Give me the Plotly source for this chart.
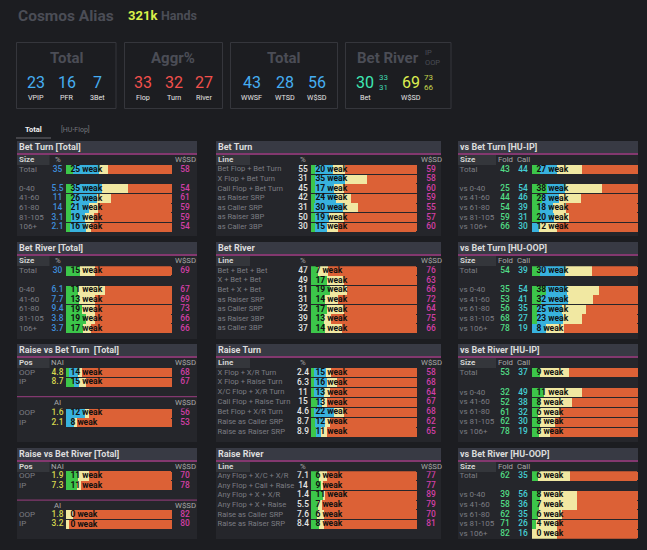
import plotly.graph_objects as go

W, H = 647, 550

# Bet Turn [Total]
bt_total_rows = ["Total", " ", "0-40", "41-60", "61-80", "81-105", "106+"]
bt_total_pct = ["35", "", "5.5", "11", "14", "3.1", "2.1"]
bt_total_weak = [25, None, 35, 26, 21, 19, 16]
bt_total_green = [7, None, 7, 7, 5, 5, 4]
bt_total_blue = [24.5, None, 26.5, 22, 17, 12.5, 15]
bt_total_yellow = [8, None, 25, 13.5, 8.5, 8.5, 5]
bt_total_orange = [60.5, None, 41.5, 57.5, 69.5, 74, 76]
bt_total_wsd = ["58", "", "54", "61", "59", "59", "54"]

# Bet River [Total]
br_total_rows = ["Total", " ", "0-40", "41-60", "61-80", "81-105", "106+"]
br_total_pct = ["30", "", "6.1", "7.7", "9.4", "3.8", "3.7"]
br_total_weak = [15, None, 11, 13, 19, 19, 17]
br_total_green = [13, None, 11.5, 12.5, 15, 19, 16]
br_total_blue = [0, None, 0, 0, 0, 0, 0]
br_total_yellow = [14, None, 25, 14.5, 12.5, 8.5, 8]
br_total_orange = [73, None, 63.5, 73, 72.5, 72.5, 76]
br_total_wsd = ["69", "", "67", "69", "73", "66", "66"]

# Raise vs Bet Turn [Total]
rvt_rows = ["OOP", "IP"]
rvt_nai_pct = ["4.8", "8.7"]
rvt_nai_weak = [14, 15]
rvt_nai_green = [2.5, 7.5]
rvt_nai_blue = [8.5, 5]
rvt_nai_yellow = [4, 6.5]
rvt_nai_orange = [85, 81]
rvt_nai_wsd = ["68", "67"]
rvt_ai_pct = ["1.6", "2.1"]
rvt_ai_weak = [12, 8]
rvt_ai_green = [0, 0]
rvt_ai_blue = [17.5, 8]
rvt_ai_yellow = [4.5, 2]
rvt_ai_orange = [78, 90]
rvt_ai_wsd = ["56", "53"]

# Raise vs Bet River [Total]
rvr_rows = ["OOP", "IP"]
rvr_nai_pct = ["1.9", "7.3"]
rvr_nai_weak = [11, 11]
rvr_nai_green = [11.5, 10.5]
rvr_nai_blue = [0, 0]
rvr_nai_yellow = [10, 4]
rvr_nai_orange = [78.5, 85.5]
rvr_nai_wsd = ["70", "78"]
rvr_ai_pct = ["1.8", "3.2"]
rvr_ai_weak = [0, 0]
rvr_ai_green = [0, 0]
rvr_ai_blue = [0, 0]
rvr_ai_yellow = [7, 3]
rvr_ai_orange = [93, 97]
rvr_ai_wsd = ["82", "80"]

# Bet Turn
bt_rows = ["Bet Flop + Bet Turn", "X Flop + Bet Turn", "Call Flop + Bet Turn", "as Raiser SRP",
           "as Caller SRP", "as Raiser 3BP", "as Caller 3BP"]
bt_pct = ["55", "31", "45", "42", "31", "50", "30"]
bt_weak = [20, 35, 17, 24, 30, 19, 15]
bt_green = [4, 4, 4, 4, 3, 4, 4]
bt_blue = [17, 28.5, 17.5, 20, 27.5, 13, 11]
bt_yellow = [11, 20, 10, 14, 14, 14.5, 10]
bt_orange = [68, 47.5, 68.5, 62, 55.5, 68.5, 75]
bt_wsd = ["59", "58", "60", "59", "55", "57", "60"]

# Bet River
br_rows = ["Bet + Bet + Bet", "X + Bet + Bet", "Bet + X + Bet", "as Raiser SRP",
           "as Caller SRP", "as Raiser 3BP", "as Caller 3BP"]
br_pct = ["47", "49", "31", "31", "32", "39", "37"]
br_weak = [7, 17, 19, 14, 17, 13, 14]
br_green = [7, 15.5, 18, 13.5, 15.5, 12.5, 13]
br_blue = [0, 0, 0, 0, 0, 0, 0]
br_yellow = [9.5, 15.5, 15.5, 12, 15.5, 6, 16]
br_orange = [83.5, 69, 66.5, 74.5, 69, 81.5, 71]
br_wsd = ["76", "63", "66", "72", "64", "75", "66"]

# Raise Turn
rt_rows = ["X Flop + X/R Turn", "X Flop + Raise Turn", "X/C Flop + X/R Turn", "Call Flop + Raise Turn",
           "Bet Flop + X/R Turn", "Raise as Caller SRP", "Raise as Raiser SRP"]
rt_pct = ["2.4", "6.3", "11", "15", "4.6", "8.7", "8.9"]
rt_weak = [15, 16, 13, 13, 22, 12, 11]
rt_green = [3, 3, 3, 6, 3, 4, 4.5]
rt_blue = [11, 12, 9, 4.5, 18.5, 9, 5]
rt_yellow = [4.5, 9.5, 6, 5, 10, 4.5, 6]
rt_orange = [81.5, 75.5, 82, 84.5, 68.5, 82.5, 84.5]
rt_wsd = ["58", "68", "64", "67", "68", "62", "65"]

# Raise River
rr_rows = ["Any Flop + X/C + X/R", "Any Flop + Call + Raise", "Any Flop + X + X/R", "Any Flop + X + Raise",
           "Raise as Caller SRP", "Raise as Raiser SRP"]
rr_pct = ["7.1", "14", "1.4", "5.5", "7.6", "8.4"]
rr_weak = [6, 9, 11, 7, 6, 8]
rr_green = [8, 9.5, 11, 7, 6, 8]
rr_blue = [0, 0, 0, 0, 0, 0]
rr_yellow = [7.5, 1.5, 2, 3, 6.5, 4]
rr_orange = [84.5, 89, 87, 90, 87.5, 88]
rr_wsd = ["77", "77", "89", "79", "70", "81"]

# vs Bet Turn [HU-IP]
vt_ip_rows = ["Total", " ", "vs 0-40", "vs 41-60", "vs 61-80", "vs 81-105", "vs 106+"]
vt_ip_fold = ["43", "", "25", "44", "54", "59", "66"]
vt_ip_call = ["44", "", "54", "46", "39", "31", "30"]
vt_ip_weak = [27, None, 38, 28, 18, 20, 12]
vt_ip_green = [8, None, 14, 9, 8, 8, 0]
vt_ip_blue = [16, None, 17, 16, 12, 12.5, 7]
vt_ip_yellow = [23, None, 35, 21.5, 12, 14.5, 16.5]
vt_ip_orange = [53, None, 34, 53.5, 68, 65, 76.5]

# vs Bet Turn [HU-OOP]
vt_oop_rows = ["Total", " ", "vs 0-40", "vs 41-60", "vs 61-80", "vs 81-105", "vs 106+"]
vt_oop_fold = ["54", "", "35", "53", "56", "68", "78"]
vt_oop_call = ["39", "", "54", "41", "35", "27", "19"]
vt_oop_weak = [30, None, 38, 32, 25, 23, 8]
vt_oop_green = [8, None, 13, 8.5, 4.5, 4.5, 0]
vt_oop_blue = [23.5, None, 20, 25, 23.5, 24.5, 13.5]
vt_oop_yellow = [25, None, 30, 24.5, 23, 18.5, 17]
vt_oop_orange = [43.5, None, 37, 42, 49, 52.5, 69.5]

# vs Bet River [HU-IP]
vr_ip_rows = ["Total", " ", "vs 0-40", "vs 41-60", "vs 61-80", "vs 81-105", "vs 106+"]
vr_ip_fold = ["53", "", "32", "52", "61", "62", "78"]
vr_ip_call = ["37", "", "49", "38", "32", "30", "19"]
vr_ip_weak = [9, None, 11, 8, 6, 8, 8]
vr_ip_green = [8, None, 11, 8, 5.5, 8, 7]
vr_ip_blue = [0, None, 0, 0, 0, 0, 0]
vr_ip_yellow = [27, None, 36.5, 30, 20.5, 13.5, 10]
vr_ip_orange = [65, None, 52.5, 62, 74, 78.5, 83]

# vs Bet River [HU-OOP]
vr_oop_rows = ["Total", " ", "vs 0-40", "vs 41-60", "vs 61-80", "vs 81-105", "vs 106+"]
vr_oop_fold = ["62", "", "39", "58", "62", "71", "82"]
vr_oop_call = ["35", "", "56", "36", "35", "26", "16"]
vr_oop_weak = [6, None, 8, 7, 6, 4, 0]
vr_oop_green = [5.5, None, 8, 6.5, 5.5, 4, 0]
vr_oop_blue = [0, None, 0, 0, 0, 0, 0]
vr_oop_yellow = [30, None, 34, 36, 23, 20, 23.5]
vr_oop_orange = [64.5, None, 58, 57.5, 71.5, 76, 76.5]

# summary cards
card_total_values = ["23", "16", "7"]
card_total_labels = ["VPIP", "PFR", "3Bet"]
card_aggr_values = ["33", "32", "27"]
card_aggr_labels = ["Flop", "Turn", "River"]
card_show_values = ["43", "28", "56"]
card_show_labels = ["WWSF", "WTSD", "W$SD"]

FONT = "Roboto"
BG = "#1c1d21"
PANEL = "#25262b"
HEAD = "#383a44"
MAGENTA = "#83386f"
GRAY = "#7c7d83"
TITLE_GRAY = "#4b4d56"
BLUE = "#3f8fdc"
YELLOW = "#d6d84e"
PINK = "#d23fa6"
FOLD = "#52dd86"
CALL = "#45cfd6"

# column geometry in pixels
COLS = {
    "left": dict(l=17, r=197, bar_l=66, bar_r=172, label=19, head_r=49.5, label_size=8),
    "mid": dict(l=216, r=441, bar_l=311, bar_r=417, label=217.5, head_r=250, label_size=7.6),
    "right": dict(l=458, r=638, bar_l=532, bar_r=638, label=459.5, head_r=496, label_size=8),
}

fig = go.Figure()
shapes = []
notes = []
axis_n = 0


def px(x):
    return x / W


def py(y):
    return 1 - y / H


def rect(x0, y0, x1, y1, fill, line=None):
    shapes.append(dict(type="rect", xref="paper", yref="paper", x0=px(x0), x1=px(x1), y0=py(y0), y1=py(y1),
                       fillcolor=fill, line=dict(color=line or fill, width=1 if line else 0), layer="below"))


def note(x, y, text, size=8.5, color=GRAY, anchor="left", bold=False):
    # annotations carry about 2px of padding on the anchored side
    if anchor == "left":
        x -= 2
    notes.append(dict(x=px(x), y=py(y), xref="paper", yref="paper", text=text, showarrow=False,
                      xanchor=anchor, yanchor="middle",
                      font=dict(family=FONT, size=size, color=color, weight=700 if bold else 400)))


def add_rows(col, first_y, pitch, rows, weak, green, blue, yellow, orange, columns):
    # one stacked bar block on its own pair of axes, columns are (center px, texts, color)
    global axis_n
    axis_n += 1
    c = COLS[col]
    xa, ya = f"x{axis_n}", f"y{axis_n}"
    unit = (c["bar_r"] - c["bar_l"]) / 100
    n = len(rows)
    top = first_y - pitch / 2
    x0 = (c["l"] - c["bar_l"]) / unit
    x1 = (c["r"] - c["bar_l"]) / unit
    fig.update_layout({
        f"xaxis{axis_n}": dict(domain=[px(c["l"]), px(c["r"])], range=[x0, x1], visible=False, fixedrange=True),
        f"yaxis{axis_n}": dict(domain=[py(top + n * pitch), py(top)], type="category", categoryorder="array",
                               categoryarray=rows, range=[n - 0.5, -0.5], visible=False, fixedrange=True),
    })
    for vals, color in [(green, "#3cc64a"), (blue, "#38b2de"), (yellow, "#f1e8a2"), (orange, "#dc6136")]:
        fig.add_trace(go.Bar(y=rows, x=vals, orientation="h", marker=dict(color=color, line_width=0),
                             xaxis=xa, yaxis=ya, hoverinfo="skip", showlegend=False))
    texts = [(c["label"] - c["bar_l"]) / unit] * n
    fig.add_trace(go.Scatter(x=texts, y=rows, text=[r.strip() for r in rows], mode="text",
                             textposition="middle right", xaxis=xa, yaxis=ya, hoverinfo="skip", showlegend=False,
                             textfont=dict(family=FONT, size=c["label_size"], color=GRAY)))
    for center, vals, color in columns:
        fig.add_trace(go.Scatter(x=[(center - c["bar_l"]) / unit] * n, y=rows, text=vals, mode="text",
                                 textposition="middle center", xaxis=xa, yaxis=ya, hoverinfo="skip",
                                 showlegend=False,
                                 textfont=dict(family=FONT, size=8.4, color=color, weight=500)))
    labels = ["" if w is None else f"{w} weak" for w in weak]
    fig.add_trace(go.Scatter(x=[4.4 / unit] * n, y=rows, text=labels, mode="text", textposition="middle right",
                             xaxis=xa, yaxis=ya, hoverinfo="skip", showlegend=False,
                             textfont=dict(family=FONT, size=8.5, color="#101010", weight=700)))


def panel(col, head_y, bottom, title, first, headers):
    c = COLS[col]
    rect(c["l"], head_y, c["r"], bottom, PANEL)
    rect(c["l"], head_y, c["r"], head_y + 12, HEAD)
    rect(c["l"], head_y + 12, c["r"], head_y + 14, MAGENTA)
    rect(c["l"], head_y + 14, c["head_r"], head_y + 24, "#34363b")
    note(c["label"], head_y + 6, title, size=9, color="#dcdcdc", bold=True)
    note(c["label"], head_y + 18.5, first, size=8, color="#d2d2d2", bold=True)
    for x, text in headers:
        note(x, head_y + 18.5, text, size=7.8, color="#a8a8a8", anchor="center")


# columns of numbers in each group
L_PCT, L_WSD = 57.5, 185
M_PCT, M_WSD = 303, 431
R_FOLD, R_CALL = 505, 523
left_heads = [(L_PCT, "%"), (L_WSD, "W$SD")]
mid_heads = [(M_PCT, "%"), (M_WSD, "W$SD")]
right_heads = [(R_FOLD, "Fold"), (R_CALL, "Call")]

# page furniture first
panel("left", 141, 236, "Bet Turn [Total]", "Size", left_heads)
add_rows("left", 169.6, 9.6, bt_total_rows, bt_total_weak, bt_total_green, bt_total_blue, bt_total_yellow,
         bt_total_orange, [(L_PCT, bt_total_pct, BLUE), (L_WSD, bt_total_wsd, PINK)])
panel("left", 242, 339, "Bet River [Total]", "Size", left_heads)
add_rows("left", 271, 9.6, br_total_rows, br_total_weak, br_total_green, br_total_blue, br_total_yellow,
         br_total_orange, [(L_PCT, br_total_pct, BLUE), (L_WSD, br_total_wsd, PINK)])
panel("left", 344, 442, "Raise vs Bet Turn  [Total]", "Pos", [(L_PCT, "NAI"), (L_WSD, "W$SD")])
add_rows("left", 372.7, 9.6, rvt_rows, rvt_nai_weak, rvt_nai_green, rvt_nai_blue, rvt_nai_yellow, rvt_nai_orange,
         [(L_PCT, rvt_nai_pct, YELLOW), (L_WSD, rvt_nai_wsd, PINK)])
rect(17, 396, 197, 397.2, MAGENTA)
note(L_PCT, 402.7, "AI", size=7.8, color="#a8a8a8", anchor="center")
note(L_WSD, 402.7, "W$SD", size=7.8, color="#a8a8a8", anchor="center")
add_rows("left", 413.3, 9.6, rvt_rows, rvt_ai_weak, rvt_ai_green, rvt_ai_blue, rvt_ai_yellow, rvt_ai_orange,
         [(L_PCT, rvt_ai_pct, YELLOW), (L_WSD, rvt_ai_wsd, PINK)])
panel("left", 448, 539, "Raise vs Bet River [Total]", "Pos", [(L_PCT, "NAI"), (L_WSD, "W$SD")])
add_rows("left", 476, 9.8, rvr_rows, rvr_nai_weak, rvr_nai_green, rvr_nai_blue, rvr_nai_yellow, rvr_nai_orange,
         [(L_PCT, rvr_nai_pct, YELLOW), (L_WSD, rvr_nai_wsd, PINK)])
rect(17, 499.5, 197, 500.7, MAGENTA)
note(L_PCT, 505, "AI", size=7.8, color="#a8a8a8", anchor="center")
note(L_WSD, 505, "W$SD", size=7.8, color="#a8a8a8", anchor="center")
add_rows("left", 514.7, 9.7, rvr_rows, rvr_ai_weak, rvr_ai_green, rvr_ai_blue, rvr_ai_yellow, rvr_ai_orange,
         [(L_PCT, rvr_ai_pct, YELLOW), (L_WSD, rvr_ai_wsd, PINK)])

panel("mid", 141, 236, "Bet Turn", "Line", mid_heads)
add_rows("mid", 169.5, 9.6, bt_rows, bt_weak, bt_green, bt_blue, bt_yellow, bt_orange,
         [(M_PCT, bt_pct, "#e6e6e6"), (M_WSD, bt_wsd, PINK)])
panel("mid", 242, 339, "Bet River", "Line", mid_heads)
add_rows("mid", 271, 9.6, br_rows, br_weak, br_green, br_blue, br_yellow, br_orange,
         [(M_PCT, br_pct, "#e6e6e6"), (M_WSD, br_wsd, PINK)])
panel("mid", 344, 442, "Raise Turn", "Line", mid_heads)
add_rows("mid", 372.7, 9.9, rt_rows, rt_weak, rt_green, rt_blue, rt_yellow, rt_orange,
         [(M_PCT, rt_pct, "#e6e6e6"), (M_WSD, rt_wsd, PINK)])
panel("mid", 448, 539, "Raise River", "Line", mid_heads)
add_rows("mid", 476, 9.66, rr_rows, rr_weak, rr_green, rr_blue, rr_yellow, rr_orange,
         [(M_PCT, rr_pct, "#e6e6e6"), (M_WSD, rr_wsd, PINK)])

panel("right", 141, 236, "vs Bet Turn [HU-IP]", "Size", right_heads)
add_rows("right", 169.6, 9.6, vt_ip_rows, vt_ip_weak, vt_ip_green, vt_ip_blue, vt_ip_yellow, vt_ip_orange,
         [(R_FOLD, vt_ip_fold, FOLD), (R_CALL, vt_ip_call, CALL)])
panel("right", 242, 339, "vs Bet Turn [HU-OOP]", "Size", right_heads)
add_rows("right", 271, 9.6, vt_oop_rows, vt_oop_weak, vt_oop_green, vt_oop_blue, vt_oop_yellow, vt_oop_orange,
         [(R_FOLD, vt_oop_fold, FOLD), (R_CALL, vt_oop_call, CALL)])
panel("right", 344, 442, "vs Bet River [HU-IP]", "Size", right_heads)
add_rows("right", 372.7, 9.93, vr_ip_rows, vr_ip_weak, vr_ip_green, vr_ip_blue, vr_ip_yellow, vr_ip_orange,
         [(R_FOLD, vr_ip_fold, FOLD), (R_CALL, vr_ip_call, CALL)])
panel("right", 448, 539, "vs Bet River [HU-OOP]", "Size", right_heads)
add_rows("right", 476, 9.67, vr_oop_rows, vr_oop_weak, vr_oop_green, vr_oop_blue, vr_oop_yellow, vr_oop_orange,
         [(R_FOLD, vr_oop_fold, FOLD), (R_CALL, vr_oop_call, CALL)])

# header
note(17.5, 16, "Cosmos Alias", size=15.5, color=TITLE_GRAY, bold=True)
note(127.5, 16, "321k", size=13, color="#d9f04a", bold=True)
note(161, 16, "Hands", size=12.5, color=TITLE_GRAY, bold=True)

# summary cards
for x0, x1 in [(16.5, 116), (124.5, 222.5), (230.5, 337.5), (345.5, 451)]:
    rect(x0, 42.5, x1, 108.5, BG, line="#35363c")
for x, title in [(66.7, "Total"), (173.5, "Aggr%"), (284, "Total"), (387.5, "Bet River")]:
    note(x, 58, title, size=15, color=TITLE_GRAY, anchor="center", bold=True)
note(424.7, 53, "IP", size=7.5, color=TITLE_GRAY)
note(424.7, 62.5, "OOP", size=7.5, color=TITLE_GRAY)
for xs, values, labels, color in [
    ((35.7, 67.3, 97.3), card_total_values, card_total_labels, "#46aef2"),
    ((143.3, 173.7, 203.7), card_aggr_values, card_aggr_labels, "#f2504c"),
    ((251.7, 285, 317.3), card_show_values, card_show_labels, "#46aef2"),
]:
    for x, value, label in zip(xs, values, labels):
        note(x, 82.7, value, size=16, color=color, anchor="center")
        note(x, 97, label, size=7.2, color="#e4e4e4", anchor="center")
note(365, 82.7, "30", size=16, color="#3fe8b4", anchor="center")
note(365, 97, "Bet", size=7.2, color="#e4e4e4", anchor="center")
note(383, 77.7, "33", size=8, color="#3fd8b0", anchor="center")
note(383, 87.7, "31", size=8, color="#3fd8b0", anchor="center")
note(410.7, 82.7, "69", size=16, color="#dcee50", anchor="center")
note(411, 97, "W$SD", size=7.2, color="#e4e4e4", anchor="center")
note(428.3, 77.7, "73", size=8, color="#c6d64e", anchor="center")
note(428.3, 87.7, "66", size=8, color="#c6d64e", anchor="center")

# tabs
note(33, 130, "Total", size=7.5, color="#f0f0f0", anchor="center", bold=True)
note(75.7, 130, "[HU-Flop]", size=7, color="#75767c", anchor="center")
rect(16, 137.6, 51, 138.6, "#6a6b70")

fig.update_layout(width=W, height=H, margin=dict(l=0, r=0, t=0, b=0), paper_bgcolor=BG, plot_bgcolor="rgba(0,0,0,0)",
                  barmode="stack", bargap=0.06, barcornerradius=1, showlegend=False, shapes=shapes, annotations=notes)

fig.write_html("out.html", config=dict(displayModeBar=False),
               post_script="document.body.style.margin='0';document.body.style.background='#1c1d21';")
